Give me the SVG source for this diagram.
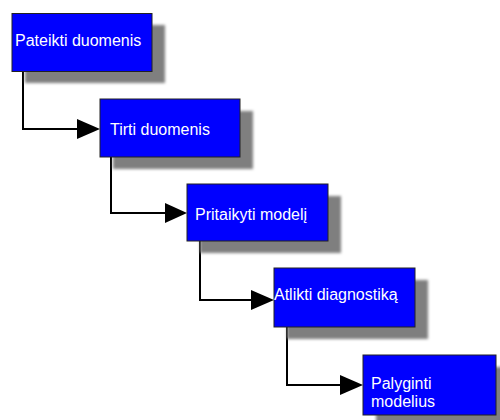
<svg xmlns="http://www.w3.org/2000/svg" width="500" height="420" viewBox="0 0 500 420">
  <style>
    .shadow { fill: #7f7f7f; filter: url(#blur); }
    .box { fill: #0000ff; stroke: #222222; stroke-width: 1; }
    .label { font-family: "Liberation Sans", Arial, sans-serif; font-size: 16px; fill: #ffffff; }
    .conn { fill: none; stroke: #000000; stroke-width: 2; }
    .head { fill: #000000; }
  </style>
  <defs>
    <filter id="blur" x="-20%" y="-20%" width="140%" height="140%">
      <feGaussianBlur stdDeviation="1.5"/>
    </filter>
  </defs>
  <rect width="500" height="420" fill="#ffffff"/>

  <g id="connectors">
    <polyline class="conn" points="23,72 23,129 78,129"/>
    <polygon class="head" points="77,119 100,129 77,139"/>
    <polyline class="conn" points="111,157 111,213 166,213"/>
    <polygon class="head" points="165,203 187,213 165,223"/>
    <polyline class="conn" points="200,241 200,300 252,300"/>
    <polygon class="head" points="251,290 274,300 251,310"/>
    <polyline class="conn" points="287,327 287,385 341,385"/>
    <polygon class="head" points="340,375 363,385 340,395"/>
  </g>

  <g id="node1">
    <rect class="shadow" x="25" y="25" width="140" height="58"/>
    <rect class="box" x="12" y="13.5" width="140" height="58"/>
    <text class="label" x="15" y="46">Pateikti duomenis</text>
  </g>
  <g id="node2">
    <rect class="shadow" x="113" y="111" width="140" height="58"/>
    <rect class="box" x="100" y="99" width="140" height="58"/>
    <text class="label" x="110" y="135">Tirti duomenis</text>
  </g>
  <g id="node3">
    <rect class="shadow" x="200" y="196" width="141" height="57"/>
    <rect class="box" x="187" y="184" width="141" height="57"/>
    <text class="label" x="195" y="220">Pritaikyti modelį</text>
  </g>
  <g id="node4">
    <rect class="shadow" x="287" y="280" width="141" height="59"/>
    <rect class="box" x="274" y="268" width="141" height="59"/>
    <text class="label" x="274" y="300">Atlikti diagnostiką</text>
  </g>
  <g id="node5">
    <rect class="shadow" x="376" y="367" width="133" height="60"/>
    <rect class="box" x="363" y="355" width="133" height="60"/>
    <text class="label" x="371" y="389">Palyginti</text>
    <text class="label" x="371" y="407">modelius</text>
  </g>
</svg>
